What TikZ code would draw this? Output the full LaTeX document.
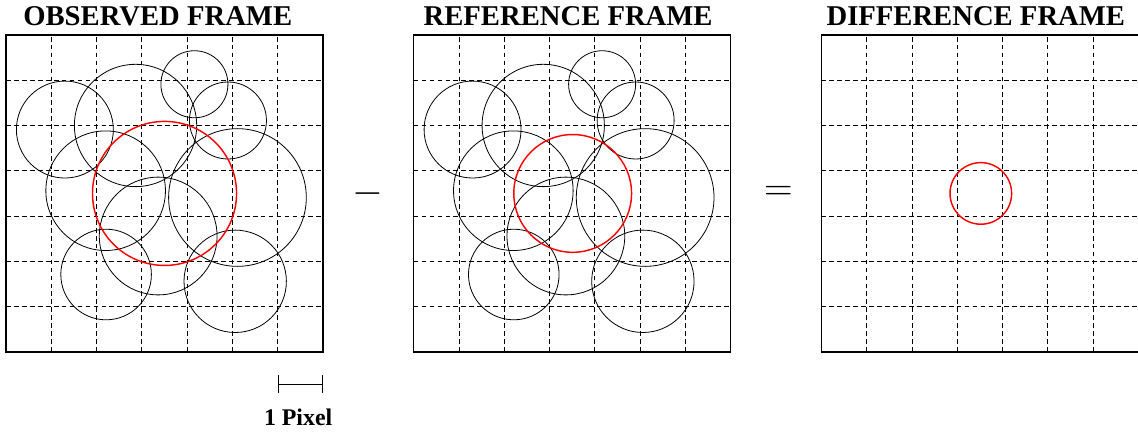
\documentclass[tikz,border=0pt]{standalone}
\usepackage{fontspec}
\setmainfont{Liberation Serif}
\usetikzlibrary{arrows.meta}

\begin{document}
\begin{tikzpicture}[line width=0.6pt, black,
        gridline/.style={dash pattern=on 3pt off 2pt, line width=0.5pt},
        blob/.style={line width=0.5pt},
        spot/.style={red, line width=0.9pt},
        frametitle/.style={font=\fontsize{18}{20}\selectfont\bfseries, anchor=base},
        opsign/.style={font=\fontsize{26}{28}\selectfont}]
    \useasboundingbox (-0.132,-1.876) rectangle (24.99,7.77);

    % Draw the three 7x7 pixel frames
    \foreach \ox in {0,9,18} {
        \draw[gridline] (\ox,0) grid (\ox+7,7);
        \draw[line width=0.8pt] (\ox,0) rectangle (\ox+7,7);
    }

    % Titles above the frames
    \node[frametitle] (obstitle) at (3.35,7.2) {OBSERVED FRAME};
    \node[frametitle] (reftitle) at (12.41,7.2) {REFERENCE FRAME};
    \node[frametitle] (difftitle) at (21.41,7.2) {DIFFERENCE FRAME};

    % Draw the constant stars, same in both frames
    \foreach \ox in {0,9} {
        \foreach \x/\y/\r in {4.16/5.91/0.74, 4.90/5.11/0.85, 1.30/4.91/1.07,
                              2.86/5.00/1.35, 2.20/3.56/1.32, 5.11/3.41/1.52,
                              3.36/2.56/1.30, 2.21/1.71/1.00, 5.06/1.56/1.13} {
            \draw[blob] (\ox+\x,\y) circle (\r);
        }
    }

    % Draw the variable source in each frame
    \draw[spot] (3.5,3.5) circle (1.59);
    \draw[spot] (12.51,3.5) circle (1.30);
    \draw[spot] (21.52,3.5) circle (0.68);

    % Operators between the frames
    \node[opsign] (minus) at (8,3.5) {$-$};
    \node[opsign] (equals) at (17.05,3.5) {$=$};

    % Scale bar for one pixel
    \coordinate (barleft) at (6,-0.71);
    \coordinate (barright) at (7,-0.71);
    \draw[line width=0.5pt, {Bar[width=0.4cm]}-{Bar[width=0.4cm]}] (barleft) -- (barright);
    \node[font=\fontsize{15}{17}\selectfont\bfseries, anchor=base] (pixlabel) at (6.45,-1.63) {1 Pixel};
\end{tikzpicture}
\end{document}
